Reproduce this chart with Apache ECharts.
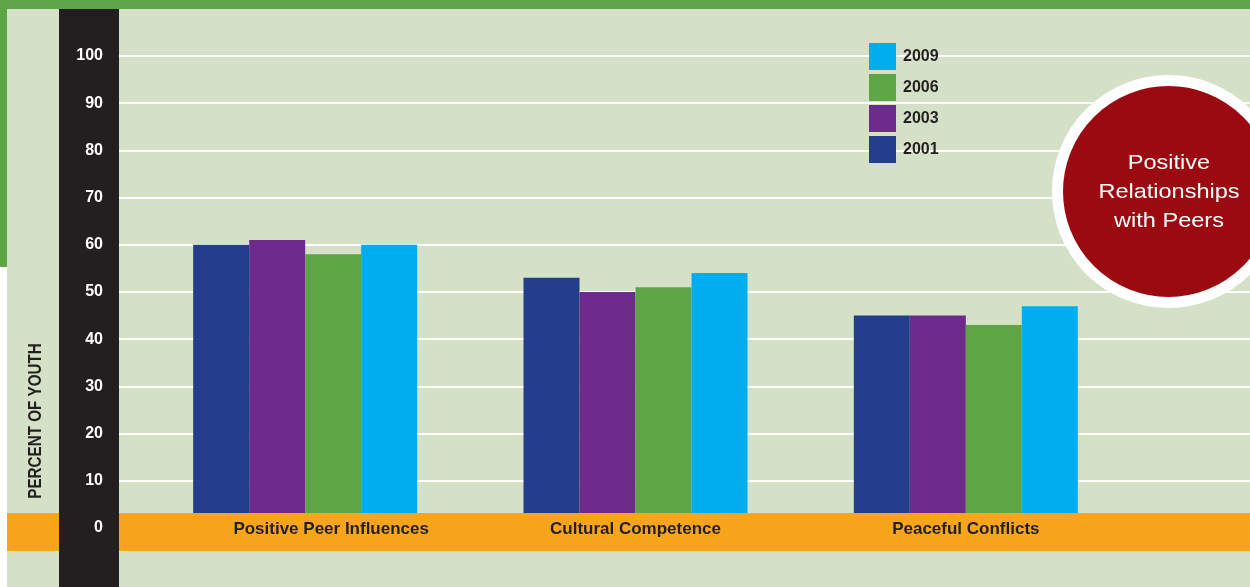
<!DOCTYPE html>
<html>
<head>
<meta charset="utf-8">
<script src="https://cdn.jsdelivr.net/npm/echarts@6/dist/echarts.min.js"></script>
<style>
  html, body { margin: 0; padding: 0; }
  #peers { width: 1250px; height: 587px; }
</style>
</head>
<body>
<div id="peers"></div>
<script>
// categories and values
var categories = ['Positive Peer Influences', 'Cultural Competence', 'Peaceful Conflicts'];
var years = ['2001', '2003', '2006', '2009'];
var data2001 = [60, 53, 45];
var data2003 = [61, 50, 45];
var data2006 = [58, 51, 43];
var data2009 = [60, 54, 47];
var yearColors = ['#233f8c', '#6d2b8c', '#5ea546', '#00aeef'];

var sans = '"Liberation Sans", Arial, sans-serif';

function drawPeers() {
    var peersChart = echarts.init(document.getElementById('peers'));
    var allData = [data2001, data2003, data2006, data2009];

    var series = [];
    for (var i = 0; i < years.length; i++) {
        series.push({
            name: years[i],
            type: 'bar',
            xAxisIndex: 1,
            yAxisIndex: 1,
            barWidth: 56,
            barGap: '0%',
            itemStyle: { color: yearColors[i] },
            data: allData[i]
        });
    }

    var option = {
        backgroundColor: '#d5e1c7',
        animation: false,
        legend: {
            orient: 'vertical',
            left: 869,
            top: 43,
            padding: 0,
            itemWidth: 27,
            itemHeight: 27,
            itemGap: 4,
            icon: 'rect',
            data: ['2009', '2006', '2003', '2001'],
            textStyle: { color: '#231f20', fontFamily: sans, fontWeight: 'bold', fontSize: 16, padding: [2, 0, 0, 2] }
        },
        grid: [
            // gridlines across the full width
            { left: 119, right: 0, top: 56, bottom: 59 },
            // bars
            { left: 140, right: 119, top: 56, bottom: 59 }
        ],
        xAxis: [
            { type: 'category', gridIndex: 0, show: false, data: categories },
            {
                type: 'category',
                gridIndex: 1,
                z: 10,
                data: categories,
                axisLine: { show: false },
                axisTick: { show: false },
                axisLabel: {
                    interval: 0,
                    margin: -7,
                    color: '#231f20',
                    fontFamily: sans,
                    fontWeight: 'bold',
                    fontSize: 17,
                    formatter: function (v, idx) {
                        if (idx === 0) return '{a|' + v + '}';
                        return v;
                    },
                    rich: {
                        a: { padding: [0, 0, 0, 52], color: '#231f20', fontFamily: sans, fontWeight: 'bold', fontSize: 17 }
                    }
                }
            }
        ],
        yAxis: [
            {
                type: 'value',
                gridIndex: 0,
                min: 0, max: 100, interval: 10,
                axisLine: { show: false },
                axisTick: { show: false },
                axisLabel: { show: false },
                splitLine: { show: true, lineStyle: { color: '#ffffff', width: 2 } }
            },
            {
                type: 'value',
                gridIndex: 1,
                z: 10,
                min: 0, max: 100, interval: 10,
                axisLine: { show: false },
                axisTick: { show: false },
                splitLine: { show: false },
                axisLabel: {
                    margin: 37,
                    color: '#ffffff',
                    fontFamily: sans,
                    fontWeight: 'bold',
                    fontSize: 16
                }
            }
        ],
        graphic: [
            { type: 'rect', z: 5, shape: { x: 0, y: 0, width: 1250, height: 9 }, style: { fill: '#5da547' } },
            { type: 'rect', z: 5, shape: { x: 0, y: 0, width: 7, height: 267 }, style: { fill: '#5da547' } },
            { type: 'rect', z: 5, shape: { x: 0, y: 267, width: 7, height: 320 }, style: { fill: '#ffffff' } },
            { type: 'rect', z: 5, shape: { x: 7, y: 513, width: 1243, height: 38 }, style: { fill: '#f8a51c' } },
            { type: 'rect', z: 6, shape: { x: 59, y: 9, width: 60, height: 578 }, style: { fill: '#231f20' } },
            {
                type: 'text', z: 6, x: 36, y: 421, rotation: Math.PI / 2, scaleX: 0.8,
                style: {
                    text: 'PERCENT OF YOUTH', fill: '#231f20',
                    font: 'bold 19px ' + sans,
                    textAlign: 'center', textVerticalAlign: 'middle'
                }
            },
            {
                type: 'circle', z: 7,
                shape: { cx: 1168.5, cy: 191.5, r: 111 },
                style: { fill: '#9b0a10', stroke: '#ffffff', lineWidth: 11 }
            },
            {
                type: 'text', z: 8, x: 1169, y: 192, scaleX: 1.12,
                style: {
                    text: 'Positive\nRelationships\nwith Peers', fill: '#ffffff',
                    font: '21px ' + sans,
                    lineHeight: 29,
                    textAlign: 'center', textVerticalAlign: 'middle'
                }
            }
        ],
        series: series
    };

    peersChart.setOption(option);
    window.onresize = function () {
        peersChart.resize();
    };
}

drawPeers();
</script>
</body>
</html>
